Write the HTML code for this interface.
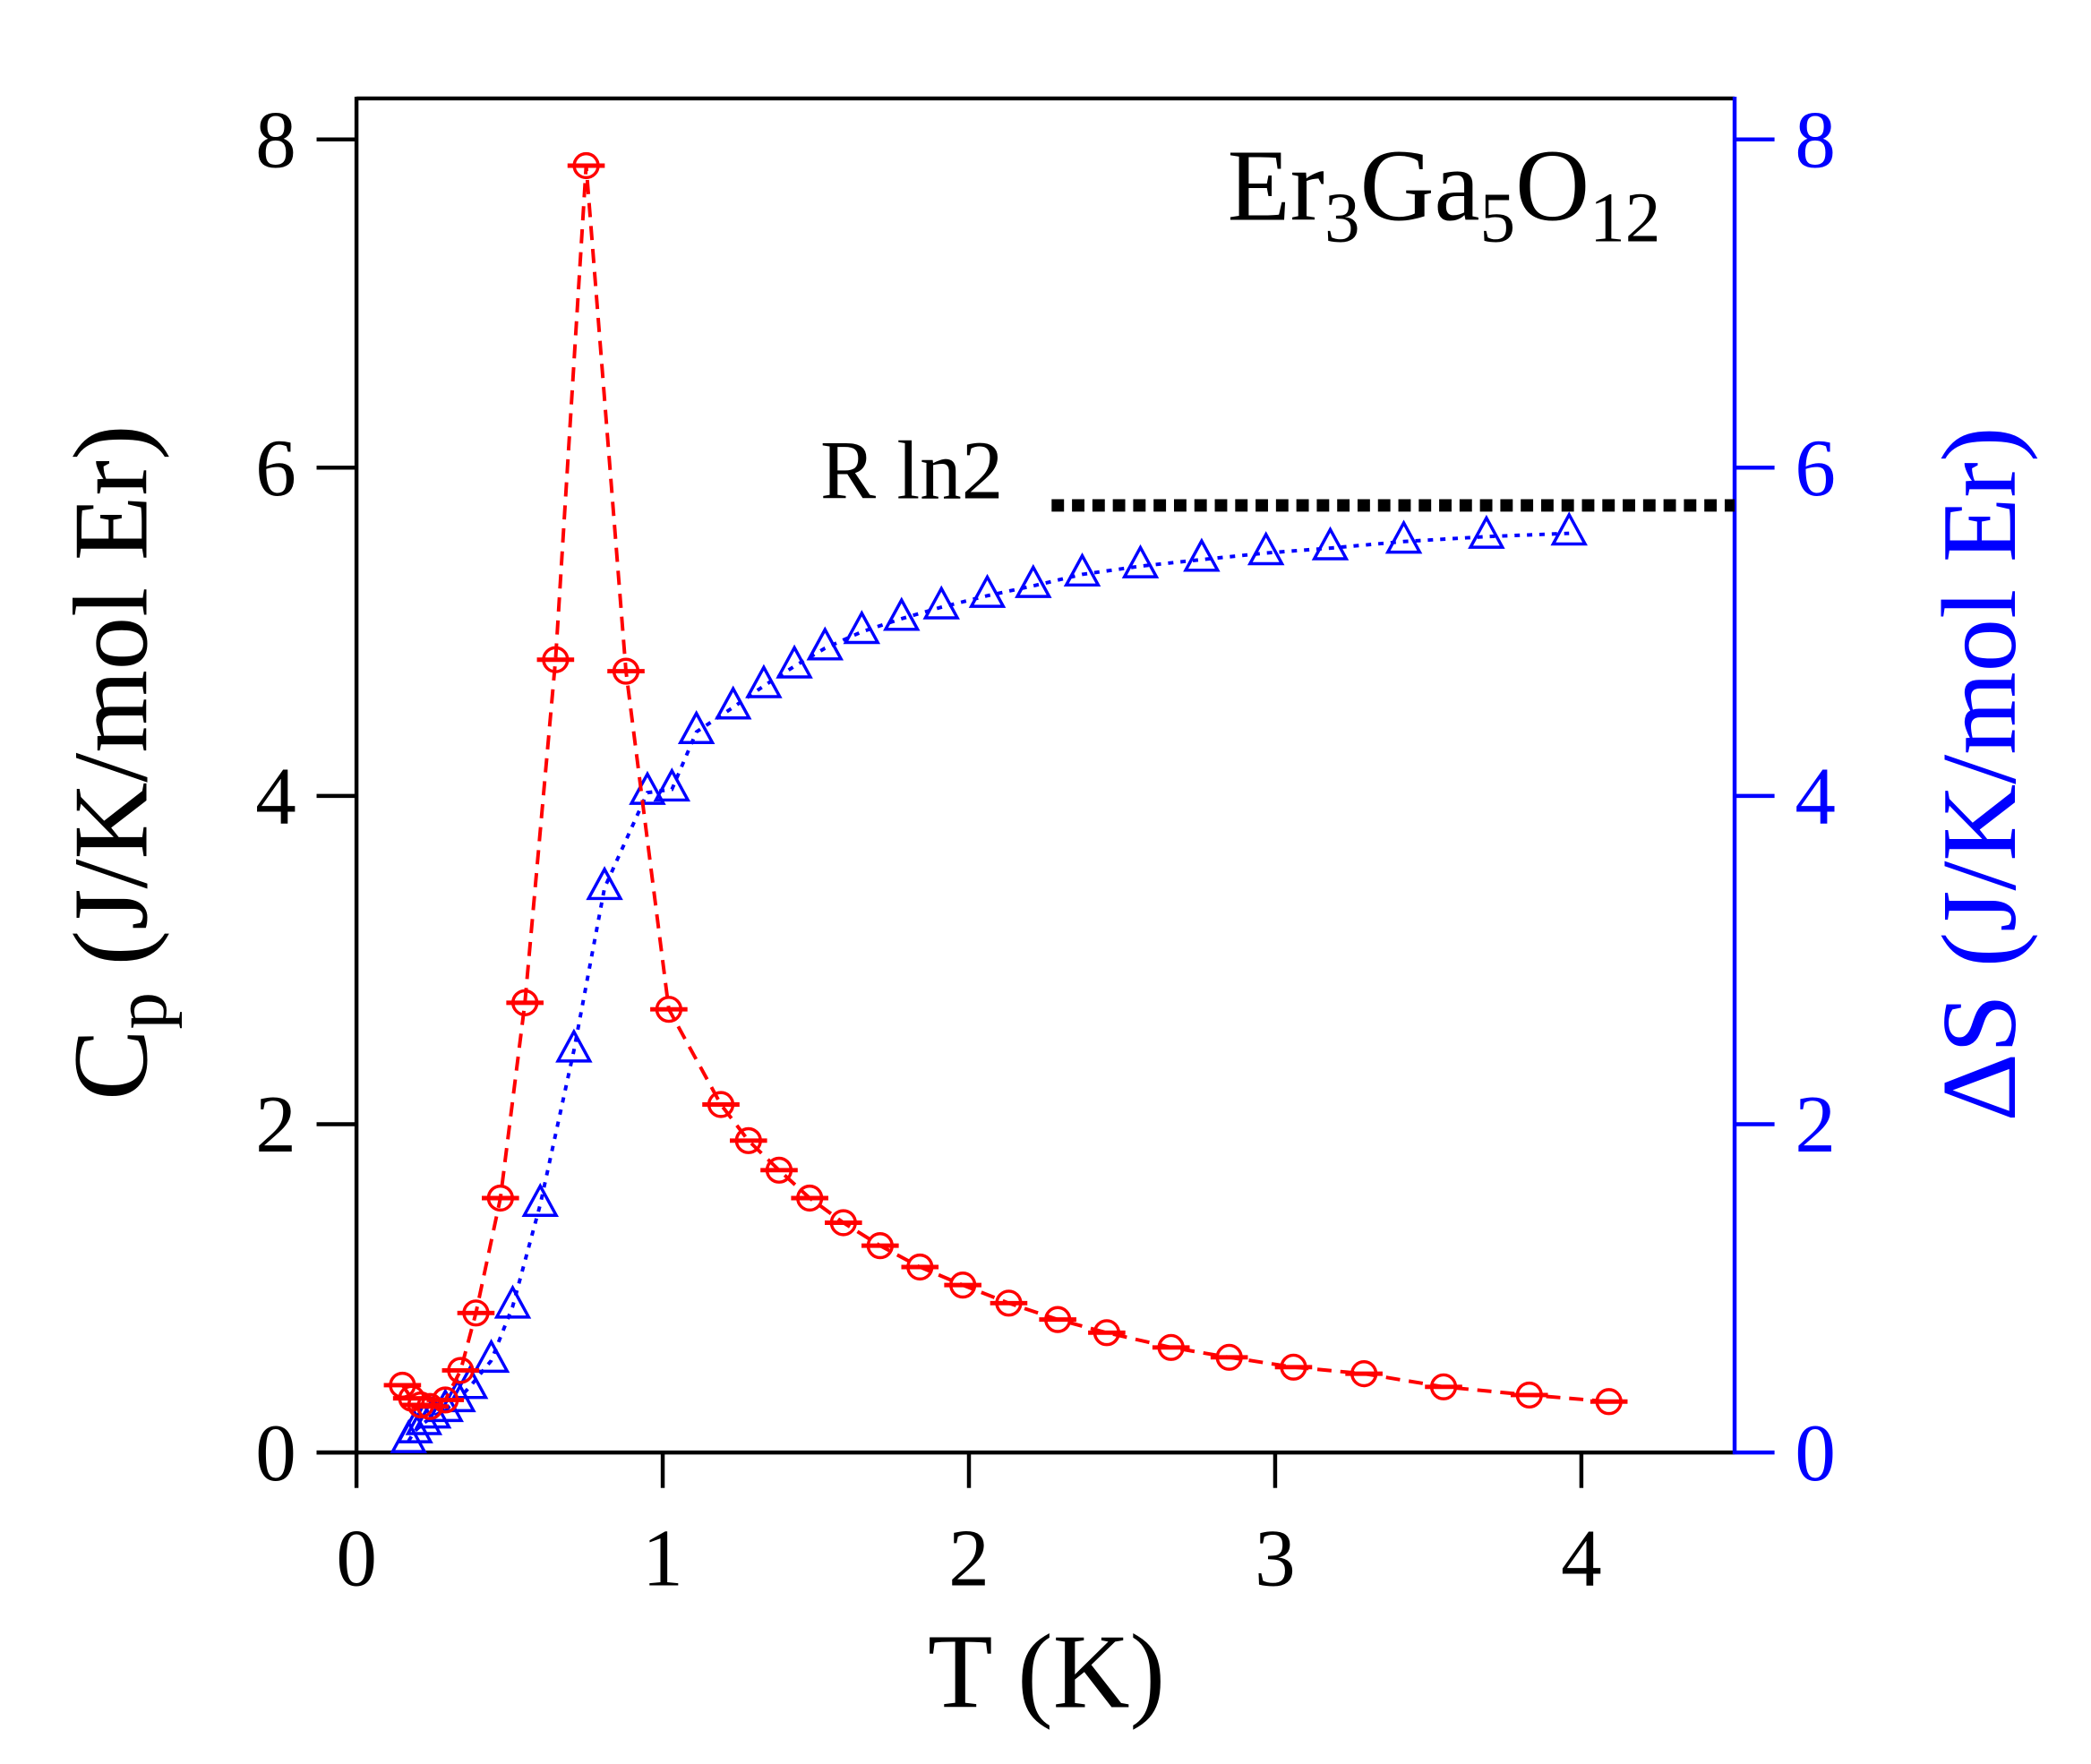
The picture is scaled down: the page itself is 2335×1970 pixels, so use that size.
<!DOCTYPE html>
<html><head><meta charset="utf-8"><style>
html,body{margin:0;padding:0;background:#fff}
svg{display:block;font-family:"Liberation Serif",serif}
</style></head><body>
<svg id="chart" width="2335" height="1970" viewBox="0 0 2335 1970" xmlns="http://www.w3.org/2000/svg">
<g id="plot" transform="scale(0.9903)"></g>
</svg>
<script>
const cpT=[0.15,0.18,0.21,0.24,0.29,0.34,0.39,0.47,0.55,0.65,0.75,0.88,1.02,1.19,1.28,1.38,1.48,1.59,1.71,1.84,1.98,2.13,2.29,2.45,2.66,2.85,3.06,3.29,3.55,3.83,4.09];
const cpV=[0.41,0.33,0.29,0.28,0.32,0.5,0.85,1.55,2.74,4.83,7.84,4.76,2.70,2.12,1.90,1.72,1.55,1.40,1.26,1.13,1.02,0.91,0.81,0.73,0.64,0.58,0.52,0.48,0.40,0.35,0.31];
const sT=[0.17,0.19,0.22,0.25,0.29,0.33,0.37,0.44,0.51,0.60,0.71,0.81,0.95,1.03,1.11,1.23,1.33,1.43,1.53,1.65,1.78,1.91,2.06,2.21,2.37,2.56,2.76,2.97,3.18,3.42,3.69,3.96];
const sV=[0.07,0.13,0.18,0.22,0.26,0.32,0.40,0.56,0.89,1.51,2.45,3.44,4.02,4.04,4.39,4.54,4.67,4.79,4.90,5.00,5.08,5.15,5.22,5.28,5.35,5.40,5.44,5.48,5.51,5.55,5.58,5.60];
const xTicks=[0,1,2,3,4];
const yTicks=[0,2,4,6,8];
const rln2=[2.27,4.5,5.77];

const L=402,R=1956,T0=111,B=1638;
const X=t=>402+t*345.3;
const Y=v=>1638-v*185.1;
const NS="http://www.w3.org/2000/svg";
const g=document.getElementById('plot');
function mk(tag,attrs,parent){const e=document.createElementNS(NS,tag);for(const k in attrs)e.setAttribute(k,attrs[k]);(parent||g).appendChild(e);return e;}

let e;
e=mk('line',{x1:L,y1:T0,x2:R,y2:T0,stroke:'#000','stroke-width':4.5});


e=mk('line',{x1:L,y1:T0-2,x2:L,y2:B,stroke:'#000','stroke-width':4.5});


e=mk('line',{x1:L-45,y1:B,x2:R,y2:B,stroke:'#000','stroke-width':4.5});


e=mk('line',{x1:R,y1:T0-2,x2:R,y2:B+2,stroke:'#0000ff','stroke-width':4.5});



xTicks.forEach(t=>{
  e=mk('line',{x1:X(t),y1:B,x2:X(t),y2:B+40,stroke:'#000','stroke-width':4.5});
  
  
  e=mk('text',{x:X(t),y:B+150,'font-size':92,'text-anchor':'middle',fill:'#000'});
  e.textContent=t;
  
  
});
yTicks.forEach(v=>{
  e=mk('line',{x1:L-45,y1:Y(v),x2:L,y2:Y(v),stroke:'#000','stroke-width':4.5});
  
  
  e=mk('text',{x:L-68,y:Y(v)+31,'font-size':92,'text-anchor':'end',fill:'#000'});
  e.textContent=v;
  
  
  e=mk('line',{x1:R,y1:Y(v),x2:R+45,y2:Y(v),stroke:'#0000ff','stroke-width':4.5});
  
  
  e=mk('text',{x:R+68,y:Y(v)+31,'font-size':92,'text-anchor':'start',fill:'#0000ff'});
  e.textContent=v;
  
  
});

e=mk('line',{x1:X(rln2[0]),y1:Y(rln2[2]),x2:R,y2:Y(rln2[2]),stroke:'#000','stroke-width':14,'stroke-dasharray':'14 9'});



e=mk('polyline',{points:sT.map((t,i)=>X(t)+','+Y(sV[i])).join(' '),fill:'none',stroke:'#0000ff','stroke-width':4,'stroke-dasharray':'6 8'});


sT.forEach((t,i)=>{
  const cx=X(t),cy=Y(sV[i]);
  e=mk('polygon',{points:`${cx},${cy-21} ${cx-18},${cy+12} ${cx+18},${cy+12}`,fill:'none',stroke:'#0000ff','stroke-width':3.5});
  
  
});

e=mk('polyline',{points:cpT.map((t,i)=>X(t)+','+Y(cpV[i])).join(' '),fill:'none',stroke:'#ff0000','stroke-width':4,'stroke-dasharray':'16 10'});


cpT.forEach((t,i)=>{
  const cx=X(t),cy=Y(cpV[i]);
  e=mk('circle',{cx:cx,cy:cy,r:13.5,fill:'none',stroke:'#ff0000','stroke-width':3.5});
  
  
  e=mk('line',{x1:cx-21,y1:cy,x2:cx+21,y2:cy,stroke:'#ff0000','stroke-width':5});
  
  
});

e=mk('text',{x:1384,y:248,'font-size':116,fill:'#000'});
e.innerHTML='Er<tspan font-size="80" dy="24">3</tspan><tspan dy="-24">Ga</tspan><tspan font-size="80" dy="24">5</tspan><tspan dy="-24">O</tspan><tspan font-size="80" dy="24">12</tspan>';


e=mk('text',{x:925,y:562,'font-size':94,fill:'#000'});
e.textContent='R ln2';


e=mk('text',{x:1180,y:1925,'font-size':120,'text-anchor':'middle',fill:'#000'});
e.textContent='T (K)';


e=mk('text',{x:0,y:0,'font-size':120,'text-anchor':'middle',fill:'#000',transform:'translate(165,860) rotate(-90)'});
e.innerHTML='C<tspan font-size="84" dy="22">p</tspan><tspan dy="-22"> (J/K/mol Er)</tspan>';


e=mk('text',{x:0,y:0,'font-size':120,'text-anchor':'middle',fill:'#0000ff',transform:'translate(2272,873) rotate(-90)'});
e.textContent='ΔS (J/K/mol Er)';


</script>
</body></html>
